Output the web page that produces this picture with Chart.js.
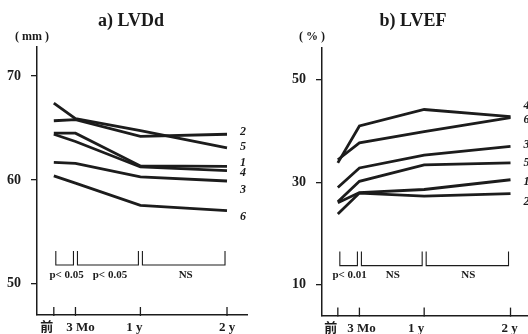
<!DOCTYPE html>
<html>
<head>
<meta charset="utf-8">
<script src="https://cdn.jsdelivr.net/npm/chart.js@4"></script>
<style>
	body { margin: 0; background: #fff; }
	.lienzo { position: relative; width: 528px; height: 334px; overflow: hidden; }
	.lienzo canvas { position: absolute; top: 0; }
	.texto { position: absolute; font-family: "Liberation Serif", serif; font-weight: bold; color: #1a1a1a; white-space: nowrap; transform: translate(-50%, -50%); }
	.titulo { font-size: 18px; }
	.unidad { font-size: 12px; }
</style>
</head>
<body>
<div class="lienzo">
	<canvas id="graficoA" width="264" height="334" style="left:0"></canvas>
	<canvas id="graficoB" width="264" height="334" style="left:264px"></canvas>
	<div class="texto titulo" style="left:131px; top:20px">a) LVDd</div>
	<div class="texto titulo" style="left:413px; top:20px">b) LVEF</div>
	<div class="texto unidad" style="left:32px; top:36px">( mm )</div>
	<div class="texto unidad" style="left:312px; top:36px">( % )</div>
</div>
<script>
	// periodos de control
	const xLabels = ['前', '3 Mo', '1 y', '2 y']
	const xMeses = [0, 3, 12, 24]

	// nombres de cada caso
	const casos = ['1', '2', '3', '4', '5', '6']

	// a) LVDd (mm)
	const lvdd1 = [64.5, 64.5, 61.35, 61.3]
	const lvdd2 = [65.7, 65.8, 64.2, 64.4]
	const lvdd3 = [61.7, 61.6, 60.3, 59.9]
	const lvdd4 = [64.4, 63.7, 61.25, 60.9]
	const lvdd5 = [67.4, 65.9, 64.75, 63.1]
	const lvdd6 = [60.4, 59.7, 57.55, 57.05]
	const lvddTicks = [50, 60, 70]
	const lvddSignif = ['p< 0.05', 'p< 0.05', 'NS']

	// b) LVEF (%)
	const lvef1 = [26.0, 28.0, 28.6, 30.5]
	const lvef2 = [23.8, 27.9, 27.3, 27.8]
	const lvef3 = [29.0, 32.8, 35.3, 37.0]
	const lvef4 = [33.8, 41.0, 44.2, 42.8]
	const lvef5 = [26.2, 30.2, 33.4, 33.8]
	const lvef6 = [34.4, 37.7, 39.9, 42.6]
	const lvefTicks = [10, 30, 50]
	const lvefSignif = ['p< 0.01', 'NS', 'NS']

	const negro = '#1c1c1c'
	const fuente = '"Liberation Serif", "Noto Sans CJK JP", serif'

	// dibuja eje x (marcas hacia adentro y textos), corchetes de significancia y numero de caso
	const extras = {
		id: 'extras',
		afterDraw(chart, args, opts) {
			const ctx = chart.ctx
			const x = chart.scales.x
			const area = chart.chartArea
			ctx.save()
			ctx.strokeStyle = negro
			ctx.fillStyle = negro

			// marcas y textos del eje x
			ctx.lineWidth = 1.3
			ctx.font = 'bold 13px ' + fuente
			ctx.textAlign = 'center'
			ctx.textBaseline = 'middle'
			xMeses.forEach((m, i) => {
				const px = x.getPixelForValue(m)
				ctx.beginPath()
				ctx.moveTo(px, area.bottom + 1)
				ctx.lineTo(px, area.bottom - 8)
				ctx.stroke()
				ctx.fillText(xLabels[i], px + opts.corrX[i], area.bottom + 13)
			})

			// corchetes
			ctx.lineWidth = 1.1
			ctx.font = 'bold 11px ' + fuente
			const arriba = area.bottom - 64
			const abajo = area.bottom - 50
			opts.signif.forEach((txt, i) => {
				const a = x.getPixelForValue(xMeses[i]) + 2
				const b = x.getPixelForValue(xMeses[i + 1]) - 2
				ctx.beginPath()
				ctx.moveTo(a, arriba)
				ctx.lineTo(a, abajo)
				ctx.lineTo(b, abajo)
				ctx.lineTo(b, arriba)
				ctx.stroke()
				ctx.fillText(txt, (a + b) / 2 + opts.corrTexto, area.bottom - 40)
			})

			// numero de caso al final de cada linea
			ctx.font = 'italic bold 12px ' + fuente
			ctx.textAlign = 'left'
			chart.data.datasets.forEach((ds, i) => {
				const y = chart.scales.y.getPixelForValue(ds.data[ds.data.length - 1].y)
				const px = x.getPixelForValue(xMeses[xMeses.length - 1]) + 13
				ctx.fillText(ds.label, px, y + opts.desplaz[i])
			})
			ctx.restore()
		}
	}

	function armaGrafico(id, series, rango, ticksY, signif, cfg) {
		const datasets = series.map((s, i) => ({
			label: casos[i],
			data: s.map((v, j) => ({ x: xMeses[j], y: v })),
			borderColor: negro,
			borderWidth: 2.8,
			pointRadius: 0,
			fill: false,
			tension: 0
		}))

		return new Chart(document.getElementById(id), {
			type: 'line',
			data: { datasets: datasets },
			options: {
				responsive: false,
				animation: false,
				events: [],
				layout: { padding: { top: cfg.arriba, right: cfg.derecha, left: 0, bottom: 0 } },
				plugins: {
					legend: { display: false },
					tooltip: { enabled: false },
					extras: { signif: signif, desplaz: cfg.desplaz, corrTexto: cfg.corrTexto, corrX: cfg.corrX }
				},
				scales: {
					x: {
						type: 'linear',
						min: cfg.xMin,
						max: cfg.xMax,
						afterBuildTicks: s => { s.ticks = xMeses.map(v => ({ value: v })) },
						afterFit: s => { s.height = cfg.altoX },
						ticks: { display: false },
						grid: { drawOnChartArea: false, drawTicks: false },
						border: { display: true, color: negro, width: 1.5 }
					},
					y: {
						min: rango[0],
						max: rango[1],
						afterBuildTicks: s => { s.ticks = ticksY.map(v => ({ value: v })) },
						afterFit: s => { s.width = cfg.anchoY },
						ticks: { padding: cfg.padY, color: negro, font: { family: fuente, weight: 'bold', size: 14 } },
						grid: { drawOnChartArea: false, drawTicks: true, tickLength: 6, color: negro, lineWidth: 1.3 },
						border: { display: true, color: negro, width: 1.5 }
					}
				}
			},
			plugins: [extras]
		})
	}

	armaGrafico('graficoA', [lvdd1, lvdd2, lvdd3, lvdd4, lvdd5, lvdd6], [47.0, 72.8], lvddTicks, lvddSignif, {
		xMin: -2.33, xMax: 26.77, arriba: 47, derecha: 17, altoX: 19, anchoY: 37, padY: 10,
		desplaz: [-4, -2, 9, 2, -1, 6], corrTexto: 2, corrX: [-7, 5, -6, 0]
	})

	armaGrafico('graficoB', [lvef1, lvef2, lvef3, lvef4, lvef5, lvef6], [4.0, 56.2], lvefTicks, lvefSignif, {
		xMin: -2.2, xMax: 26.43, arriba: 48, derecha: 0, altoX: 18, anchoY: 58, padY: 10,
		desplaz: [2, 8, -2, -11, 0, 2], corrTexto: 1, corrX: [-7, 2, -8, -1]
	})
</script>
</body>
</html>
